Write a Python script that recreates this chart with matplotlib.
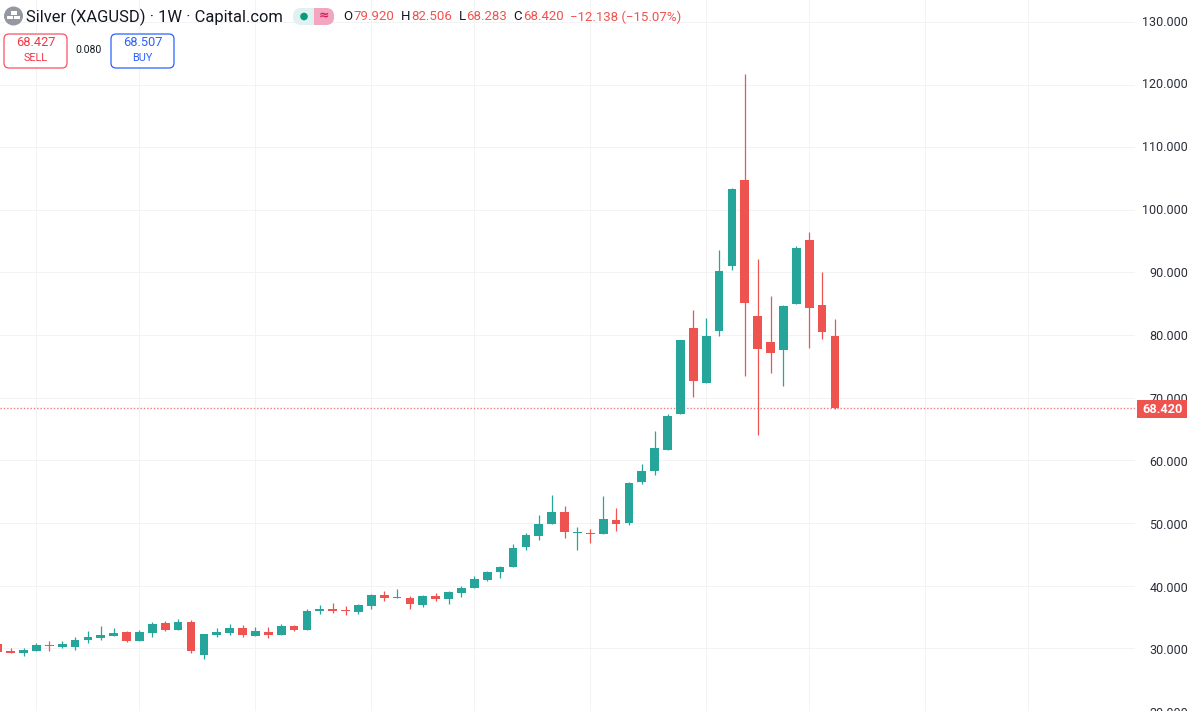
import matplotlib
matplotlib.use("Agg")
import matplotlib.pyplot as plt
from matplotlib.patches import Circle, FancyBboxPatch, Rectangle

# weekly candles, oldest first
opens = [30.63, 29.58, 29.31, 29.58, 30.48, 30.16, 30.21, 31.27, 31.59, 32.01, 32.59,
         31.16, 32.49, 33.97, 32.91, 34.13, 28.99, 32.17, 32.49, 33.17, 32.01, 32.59,
         32.17, 33.49, 32.96, 35.93, 36.35, 36.08, 35.82, 36.83, 38.52, 38.10, 37.99,
         36.88, 38.36, 37.94, 38.84, 39.63, 40.85, 42.17, 42.96, 46.14, 47.99, 49.79,
         51.80, 48.41, 48.47, 48.25, 50.42, 50.05, 56.61, 58.31, 61.64, 67.35, 81.10,
         72.33, 80.70, 91.05, 104.83, 83.05, 78.96, 77.69, 84.90, 95.14, 84.74, 79.92]
highs = [30.90, 30.00, 30.00, 30.79, 31.11, 31.11, 31.85, 32.75, 33.49, 33.17, 32.75,
         32.86, 34.13, 34.29, 34.76, 34.55, 32.22, 33.17, 33.81, 33.65, 33.33, 33.33,
         33.81, 33.65, 36.35, 36.98, 37.30, 36.83, 37.14, 38.73, 39.10, 39.52, 38.36,
         38.47, 38.84, 39.15, 39.95, 41.53, 42.38, 43.17, 46.61, 48.36, 51.22, 54.55,
         52.70, 49.37, 49.05, 54.39, 52.43, 56.51, 59.37, 64.71, 67.41, 79.25, 84.00,
         82.73, 93.55, 103.45, 121.68, 92.17, 86.22, 84.74, 94.20, 96.45, 90.05, 82.506]
lows = [29.40, 29.26, 28.84, 29.58, 29.58, 30.05, 29.74, 30.85, 31.27, 32.01, 31.01,
        31.16, 31.80, 32.75, 32.91, 29.26, 28.36, 31.85, 32.17, 31.75, 32.01, 31.69,
        32.17, 32.75, 32.96, 35.45, 35.61, 35.29, 35.45, 36.24, 37.62, 38.04, 36.24,
        36.67, 37.51, 37.04, 38.25, 39.63, 40.69, 41.27, 42.96, 45.77, 47.35, 49.79,
        47.62, 45.66, 46.88, 48.25, 48.68, 49.74, 56.24, 57.67, 61.64, 67.35, 70.05,
        72.33, 79.87, 90.42, 73.50, 64.13, 73.97, 71.95, 84.90, 77.90, 79.40, 68.283]
closes = [29.47, 29.26, 29.68, 30.48, 30.37, 30.63, 31.38, 31.80, 32.12, 32.43, 31.11,
          32.59, 33.81, 32.91, 34.13, 29.58, 32.22, 32.59, 33.17, 32.06, 32.70, 32.17,
          33.49, 32.91, 36.03, 36.35, 35.93, 35.98, 36.98, 38.47, 38.04, 38.25, 37.04,
          38.31, 37.94, 38.94, 39.68, 41.06, 42.12, 43.02, 46.03, 48.04, 49.79, 51.80,
          48.57, 48.62, 48.25, 50.58, 49.89, 56.35, 58.31, 61.96, 67.14, 79.25, 72.67,
          79.87, 90.16, 103.29, 85.10, 77.80, 77.20, 84.59, 93.90, 84.36, 80.50, 68.42]

price_ticks = [20, 30, 40, 50, 60, 70, 80, 90, 100, 110, 120, 130]
time_grid = [3, 11, 20, 29, 37, 46, 55, 63, 72, 80]  # candle index of the vertical lines
last_price = 68.42

UP = "#26a69a"
DOWN = "#ef5350"
GRID = "#f3f3f3"
W, H = 1200, 711
SCALE_X = 1135  # left edge of the price scale, pixels

# candle i sits at pixel -2.2 + 12.88 * i, price p at pixel 651 - (p - 30) * 6.29
STEP_X = 12.88
STEP_Y = 6.29
Y30 = 651

plt.rcParams["font.family"] = ["Roboto", "DejaVu Sans"]

fig = plt.figure(figsize=(W / 100, H / 100), dpi=100)
ax = fig.add_axes([0, 0, SCALE_X / W, 1])
ax.set_xlim(2.2 / STEP_X, (SCALE_X + 2.2) / STEP_X)
ax.set_ylim(30 - (H - Y30) / STEP_Y, 30 + Y30 / STEP_Y)
for s in ax.spines.values():
    s.set_visible(False)
ax.tick_params(left=False, bottom=False, labelleft=False, labelbottom=False)
ax.set_xticks(time_grid)
ax.set_yticks(price_ticks)
ax.grid(True, color=GRID, linewidth=0.72, zorder=0)
ax.set_axisbelow(True)

for i in range(len(opens)):
    c = UP if closes[i] >= opens[i] else DOWN
    ax.plot([i, i], [lows[i], highs[i]], color=c, lw=0.9, zorder=2, solid_capstyle="butt")
    lo = min(opens[i], closes[i])
    hi = max(opens[i], closes[i])
    ax.bar(i, hi - lo, bottom=lo, width=0.68, color=c, zorder=3, linewidth=0)

ax.axhline(last_price, color="#f47c7a", lw=1.0, ls=(0, (1, 1.4)), zorder=1)

# everything else goes on a second axes counted in picture pixels
top = fig.add_axes([0, 0, 1, 1], zorder=5)
top.set_xlim(0, W)
top.set_ylim(H, 0)
top.axis("off")
top.patch.set_alpha(0)

def price_y(p):
    return Y30 - (p - 30) * STEP_Y

for p in price_ticks:
    top.text(1188, price_y(p), "%.3f" % p, ha="right", va="center", fontsize=9, color="#2a2e39",
             clip_on=False, zorder=1)

top.add_patch(Rectangle((1137, price_y(last_price) - 9), 50, 18, facecolor=DOWN, edgecolor="none", zorder=2))
top.text(1183, price_y(last_price), "%.3f" % last_price, ha="right", va="center", fontsize=9.2,
         color="white", fontweight="bold", zorder=3)

# symbol icon
top.add_patch(Circle((13.5, 16), 9.5, facecolor="#9598a1", edgecolor="none"))
top.add_patch(Rectangle((10.5, 11), 6, 3.5, facecolor="white", edgecolor="none"))
top.add_patch(Rectangle((7, 15.5), 6, 3.5, facecolor="white", edgecolor="none"))
top.add_patch(Rectangle((14, 15.5), 6, 3.5, facecolor="white", edgecolor="none"))

top.text(26, 17, "Silver (XAGUSD) · 1W · Capital.com", va="center", fontsize=11.9, color="#131722")

# market status pill, teal half and pink half
pill = FancyBboxPatch((293, 8), 41, 17, boxstyle="round,pad=0,rounding_size=8",
                      facecolor="#dff2ef", edgecolor="none")
top.add_patch(pill)
pink = FancyBboxPatch((293, 8), 41, 17, boxstyle="round,pad=0,rounding_size=8",
                      facecolor="#f2a6c0", edgecolor="none")
top.add_patch(pink)
pink.set_clip_path(Rectangle((314, 8), 20, 17, transform=top.transData))
top.add_patch(Circle((304, 16.5), 3.8, facecolor="#089981", edgecolor="none"))
top.text(323.5, 16, "≈", ha="center", va="center", fontsize=9, color="#d81b60",
         family=["DejaVu Sans"], fontweight="bold")

# OHLC row
for label, lx, val, vx in [("O", 343, "79.920", 353), ("H", 401, "82.506", 411),
                           ("L", 459, "68.283", 466), ("C", 513, "68.420", 523)]:
    top.text(lx, 17, label, va="center", fontsize=9.5, color="#131722")
    top.text(vx, 17, val, va="center", fontsize=9.5, color=DOWN)
top.text(570, 17, "−12.138 (−15.07%)", va="center", fontsize=9.5, color=DOWN)

# sell / buy boxes
top.add_patch(FancyBboxPatch((4, 34), 63, 34, boxstyle="round,pad=0,rounding_size=5",
                             facecolor="white", edgecolor="#f7525f", lw=0.9))
top.add_patch(FancyBboxPatch((111, 34), 63, 34, boxstyle="round,pad=0,rounding_size=5",
                             facecolor="white", edgecolor="#2962ff", lw=0.9))
top.text(35.5, 43, "68.427", ha="center", va="center", fontsize=9.3, color="#f23645")
top.text(35.5, 58, "SELL", ha="center", va="center", fontsize=7.8, color="#f23645")
top.text(89, 50, "0.080", ha="center", va="center", fontsize=7.5, color="#131722")
top.text(142.5, 43, "68.507", ha="center", va="center", fontsize=9.3, color="#2962ff")
top.text(142.5, 58, "BUY", ha="center", va="center", fontsize=7.8, color="#2962ff")

fig.savefig("out.png", dpi=100)
